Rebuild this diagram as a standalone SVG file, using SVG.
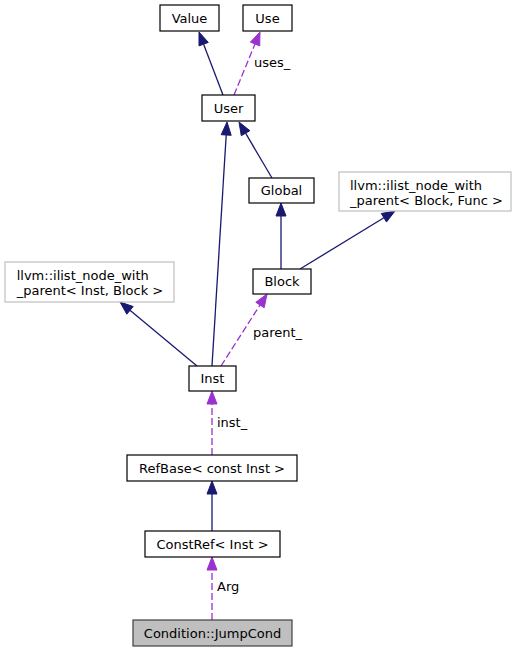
<svg xmlns="http://www.w3.org/2000/svg" width="519" height="652" viewBox="0 0 519 652">
<style>
  text { font-family: "DejaVu Sans", "Liberation Sans", sans-serif; font-size: 13px; fill: #000; }
  .node rect { fill: #fff; stroke: #000; stroke-width: 1.2; }
  .ext rect { fill: #fff; stroke: #bfbfbf; stroke-width: 1.2; }
  .sel rect { fill: #bfbfbf; stroke: #404040; stroke-width: 1.2; }
  .c { text-anchor: middle; }
  .inh { stroke: #191970; stroke-width: 1.3; fill: none; }
  .inhh { fill: #191970; stroke: #191970; }
  .use { stroke: #9a32cd; stroke-width: 1.3; fill: none; stroke-dasharray: 7,3; }
  .useh { fill: #9a32cd; stroke: #9a32cd; }
</style>
<rect width="519" height="652" fill="#fff"/>
<g id="connectors">
  <line class="inh" x1="223" y1="95" x2="203.6" y2="44.2"/>
  <polygon class="inhh" points="199,32 208.3,42.4 199,45.9"/>
  <line class="use" x1="234" y1="95" x2="255" y2="44"/>
  <polygon class="useh" points="260,32 259.7,45.9 250.4,42.1"/>
  <text x="254" y="67">uses_</text>
  <line class="inh" x1="272" y1="178" x2="245.6" y2="133.2"/>
  <polygon class="inhh" points="239,122 249.9,130.7 241.3,135.7"/>
  <line class="inh" x1="212" y1="366" x2="226.2" y2="135"/>
  <polygon class="inhh" points="227,122 231.2,135.3 221.2,134.7"/>
  <line class="inh" x1="281" y1="269" x2="281" y2="216"/>
  <polygon class="inhh" points="281,203 286,216 276,216"/>
  <line class="inh" x1="300" y1="269" x2="383.9" y2="217.8"/>
  <polygon class="inhh" points="395,211 386.5,222 381.3,213.5"/>
  <line class="inh" x1="197" y1="366" x2="130" y2="310.3"/>
  <polygon class="inhh" points="120,302 133.2,306.5 126.8,314.2"/>
  <line class="use" x1="221" y1="366" x2="260" y2="305"/>
  <polygon class="useh" points="267,294 264.2,307.7 255.8,302.3"/>
  <text x="253" y="337">parent_</text>
  <line class="use" x1="212" y1="455" x2="212" y2="404"/>
  <polygon class="useh" points="212,391 217,404 207,404"/>
  <text x="217" y="427">inst_</text>
  <line class="inh" x1="212" y1="531" x2="212" y2="494"/>
  <polygon class="inhh" points="212,481 217,494 207,494"/>
  <line class="use" x1="212" y1="620" x2="212" y2="570"/>
  <polygon class="useh" points="212,557 217,570 207,570"/>
  <text x="217" y="591">Arg</text>
</g>
<g id="Value" class="node"><rect x="160" y="5" width="59" height="26"/><text class="c" x="189.5" y="22.5">Value</text></g>
<g id="Use" class="node"><rect x="243" y="5" width="49" height="26"/><text class="c" x="267.5" y="22.5">Use</text></g>
<g id="User" class="node"><rect x="202" y="95" width="53" height="26"/><text class="c" x="228.5" y="112.5">User</text></g>
<g id="Global" class="node"><rect x="249" y="178" width="65" height="25"/><text class="c" x="281.5" y="195">Global</text></g>
<g id="ilist_block_func" class="ext"><rect x="339" y="172" width="172" height="39"/><text x="350" y="189.5">llvm::ilist_node_with</text><text x="350" y="204.5">_parent&lt; Block, Func &gt;</text></g>
<g id="Block" class="node"><rect x="253" y="269" width="58" height="25"/><text class="c" x="282" y="286">Block</text></g>
<g id="ilist_inst_block" class="ext"><rect x="5" y="262" width="169" height="40"/><text x="16.7" y="279.5">llvm::ilist_node_with</text><text x="16.7" y="294.5">_parent&lt; Inst, Block &gt;</text></g>
<g id="Inst" class="node"><rect x="189" y="366" width="47" height="25"/><text class="c" x="212.5" y="383">Inst</text></g>
<g id="RefBase" class="node"><rect x="127" y="455" width="170" height="26"/><text class="c" x="212" y="472.5">RefBase&lt; const Inst &gt;</text></g>
<g id="ConstRef" class="node"><rect x="145" y="531" width="135" height="26"/><text class="c" x="212.5" y="548.5">ConstRef&lt; Inst &gt;</text></g>
<g id="JumpCond" class="sel"><rect x="133" y="620" width="159" height="26"/><text class="c" x="212.5" y="637.5">Condition::JumpCond</text></g>
</svg>
